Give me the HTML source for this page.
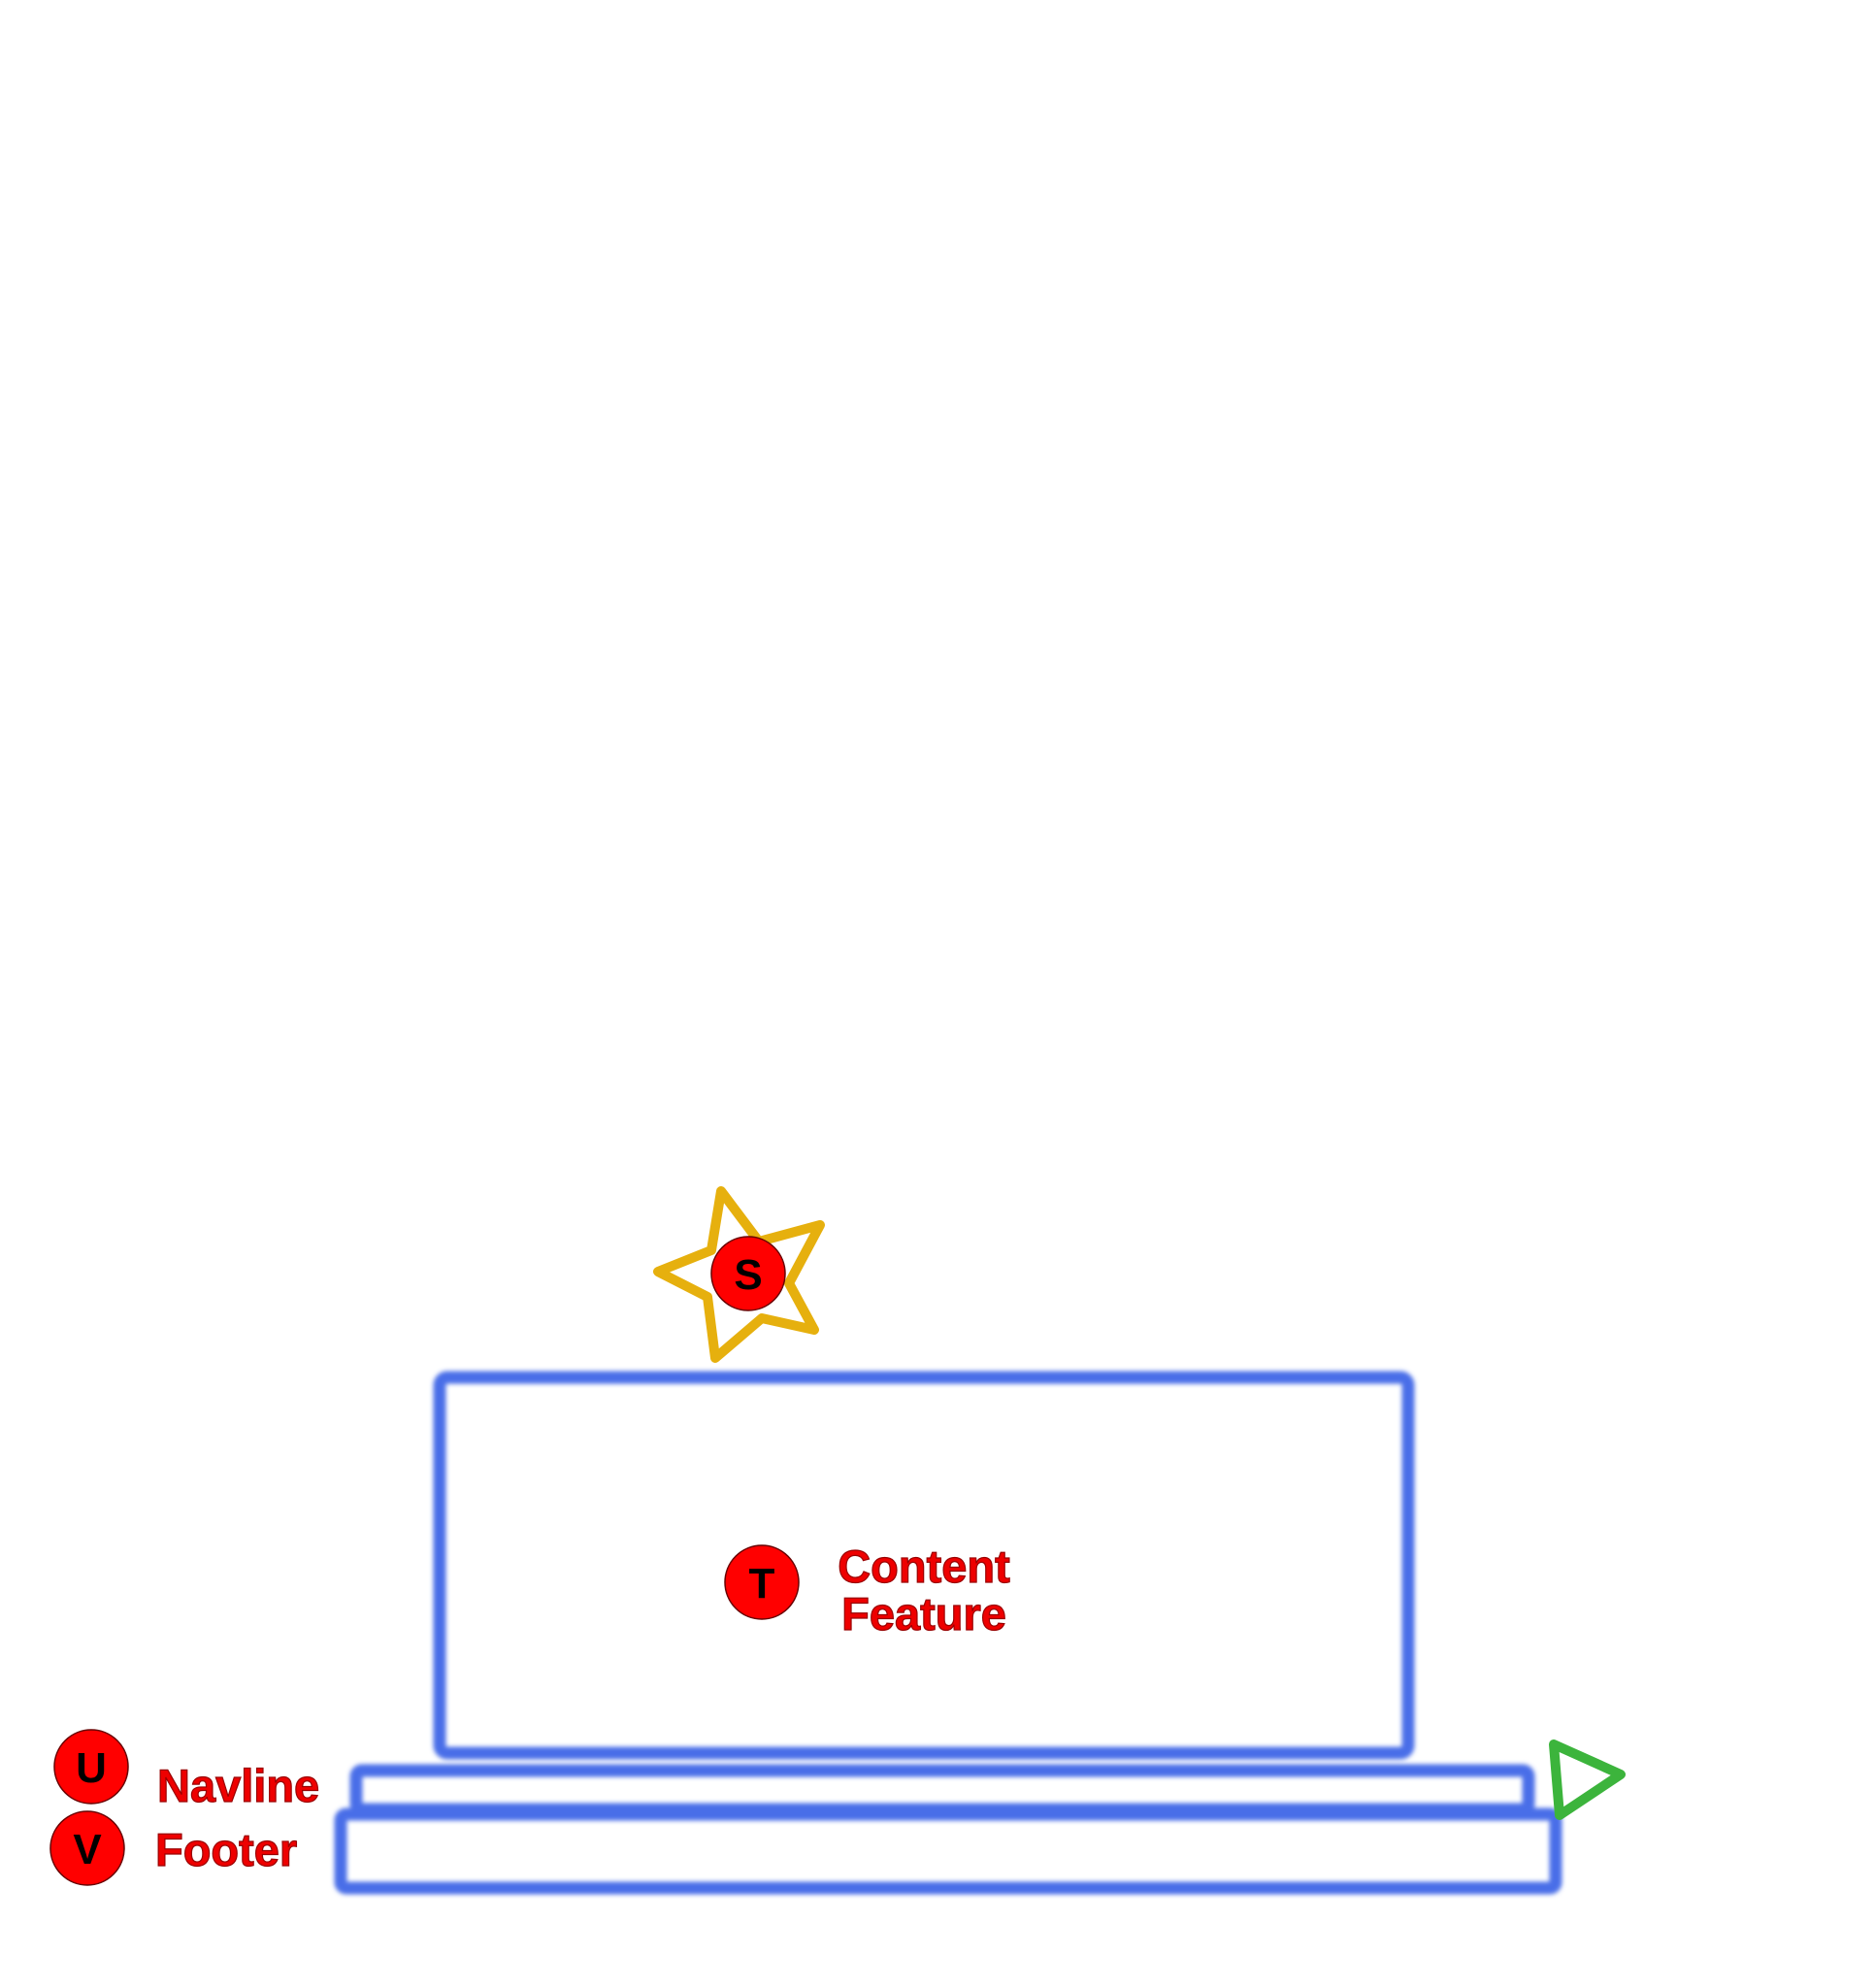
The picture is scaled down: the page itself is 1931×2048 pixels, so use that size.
<!DOCTYPE html>
<html><head><meta charset="utf-8"><style>
html,body{margin:0;padding:0;background:#fff;}
svg{display:block;}
text{font-family:"Liberation Sans",sans-serif;font-weight:bold;}
</style></head><body>
<svg width="1931" height="2048" viewBox="0 0 1931 2048" xmlns="http://www.w3.org/2000/svg">
<defs><filter id="b" x="-5%" y="-20%" width="110%" height="140%"><feGaussianBlur stdDeviation="2.4"/></filter></defs>
<g transform="translate(-5,-10)">
<g filter="url(#b)" fill="none" stroke="#4a6ee8" stroke-width="13">
<rect x="458" y="1429" width="998" height="387" rx="8"/>
<rect x="372" y="1834" width="1208" height="40" rx="6"/>
<rect x="356" y="1879" width="1252" height="76" rx="6"/>
</g>
<polygon points="748,1237 787,1289 850,1272 818,1332 844,1380 790,1368 742,1409 734,1346 683,1320 738,1298" fill="none" stroke="#e6b00e" stroke-width="10" stroke-linejoin="round"/>
<polygon points="1606,1807 1675,1838 1612,1880" fill="none" stroke="#3cb43c" stroke-width="10" stroke-linejoin="round"/>
<g stroke="#600" stroke-width="1.5" fill="#f00">
<circle cx="776" cy="1322" r="38"/>
<circle cx="790" cy="1640" r="38"/>
<circle cx="99" cy="1830" r="38"/>
<circle cx="95" cy="1914" r="38"/>
</g>
<g fill="#000" font-size="44" text-anchor="middle">
<text x="776" y="1338">S</text>
<text x="790" y="1656">T</text>
<text x="99" y="1846">U</text>
<text x="95" y="1930">V</text>
</g>
<g fill="#e00" stroke="#900" stroke-width="1.2" font-size="47">
<text x="957" y="1640" text-anchor="middle">Content</text>
<text x="957" y="1689" text-anchor="middle">Feature</text>
<text x="167" y="1866">Navline</text>
<text x="165" y="1932">Footer</text>
</g>
</g>
</svg>
</body></html>
